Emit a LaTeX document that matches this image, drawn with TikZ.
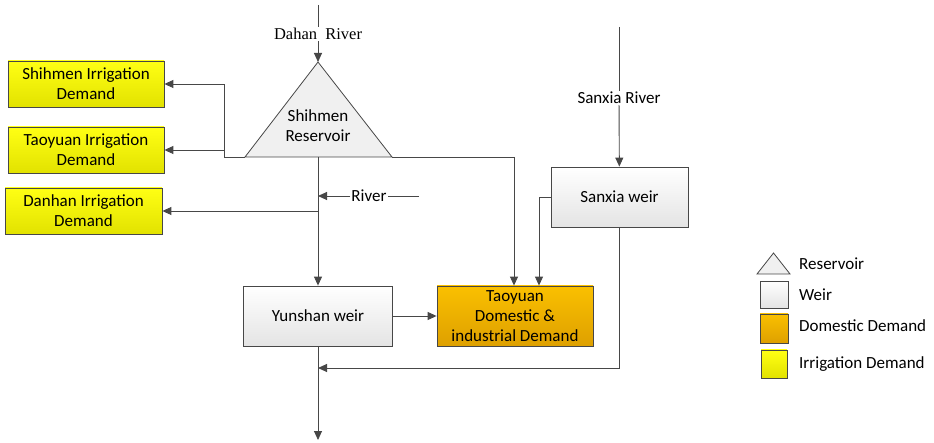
\documentclass[tikz,border=0pt]{standalone}
\usepackage{fontspec}
\setmainfont{Carlito}
\newfontfamily\riverserif{Liberation Serif}
\usetikzlibrary{arrows.meta,positioning,calc}
\definecolor{lineg}{HTML}{474747}
\definecolor{irrtop}{HTML}{FFFF14}
\definecolor{irrbot}{HTML}{E2E200}
\definecolor{domtop}{HTML}{FAC000}
\definecolor{dombot}{HTML}{DEA000}
\definecolor{weirbot}{HTML}{E4E4E4}
\definecolor{resfill}{HTML}{F0F0F0}

\tikzset{
  box/.style={draw=lineg, line width=0.8pt, align=center, inner sep=0pt,
    font=\fontsize{17}{20}\selectfont},
  irr/.style={box, top color=irrtop, bottom color=irrbot, minimum width=156, minimum height=46},
  weir/.style={box, top color=white, bottom color=weirbot},
  dom/.style={box, top color=domtop, bottom color=dombot},
  lbl/.style={inner sep=1pt, align=center, font=\fontsize{17}{20}\selectfont},
  line/.style={draw=lineg, line width=0.9pt},
  flow/.style={line, -{Triangle[length=9pt,width=8pt]}}
}

\begin{document}
\begin{tikzpicture}[x=1pt,y=-1pt]
  \useasboundingbox (0,0) rectangle (934,443);
  \node[irr] (shiIrr) at (86,84) {Shihmen Irrigation\\Demand};
  \node[irr] (taoIrr) at (86,150) {Taoyuan Irrigation\\Demand};
  \node[irr, minimum width=157] (danIrr) at (83.5,211) {Danhan Irrigation\\Demand};
  \node[weir, minimum width=149, minimum height=60] (yun) at (318,316) {Yunshan weir};
  \node[dom, minimum width=156, minimum height=60] (taoDom) at (515,316) {Taoyuan\\Domestic \&\\industrial Demand};
  \node[weir, minimum width=137, minimum height=60] (sanWeir) at (619.5,197) {Sanxia weir};

  \coordinate (resTop) at (318,62);
  \coordinate (resL) at (245,157);
  \coordinate (resR) at (392,157);
  \coordinate (resB) at (318,157);
  \filldraw[draw=lineg, fill=resfill, line width=0.8pt] (resTop) -- (resR) -- (resL) -- cycle;
  \node[lbl] (shiRes) at (318,126) {Shihmen\\Reservoir};

  \coordinate (dahanSrc) at (318,5);
  \node[lbl, font=\riverserif\fontsize{16.5}{18}\selectfont] (dahan) at (318,34) {Dahan\ \ River};
  \draw[line] (dahanSrc) -- (dahan);
  \draw[flow] (dahan) -- (resTop);

  \draw[line] (resL) -- (224,157) coordinate (jL);
  \draw[flow] (jL) |- (shiIrr);
  \draw[flow] (jL |- taoIrr) -- (taoIrr);
  \draw[line] (resR) -- (514,157) coordinate (jR);
  \draw[flow] (jR) -- (jR |- taoDom.north);
  \draw[flow] (resB) -- (yun);
  \draw[flow] (resB |- danIrr) -- (danIrr);

  \node[lbl] (river) at (369,196) {River};
  \coordinate (riverSrc) at (419,196);
  \draw[line] (riverSrc) -- (river);
  \draw[flow] (river) -- (resB |- river);

  \coordinate (sanSrc) at (619,27);
  \node[lbl] (sanRiv) at (619,98) {Sanxia River};
  \draw[line] (sanSrc) -- (sanRiv);
  \draw[flow] (sanRiv) -- (sanWeir);
  \draw[flow] (sanWeir.west) -| ([xshift=24pt]taoDom.north);
  \coordinate (joinOut) at (318,368);
  \draw[flow] (sanWeir.south) |- (joinOut);
  \draw[flow] (yun) -- (taoDom);
  \coordinate (outlet) at (318,440);
  \draw[flow] (yun) -- (outlet);

  \filldraw[draw=lineg, fill=resfill, line width=0.8pt] (757,274) -- (790,274) -- (773.5,253) -- cycle;
  \node[weir, minimum width=28, minimum height=27] (lgWeir) at (774,294.5) {};
  \node[dom, minimum width=28, minimum height=29] (lgDom) at (774,328.5) {};
  \node[irr, minimum width=26, minimum height=28] (lgIrr) at (774,364) {};
  \node[lbl, anchor=west] (lgResT) at (798,264) {Reservoir};
  \node[lbl, anchor=west] (lgWeirT) at (798,295) {Weir};
  \node[lbl, anchor=west] (lgDomT) at (798,326) {Domestic Demand};
  \node[lbl, anchor=west] (lgIrrT) at (798,364) {Irrigation Demand};
\end{tikzpicture}
\end{document}
